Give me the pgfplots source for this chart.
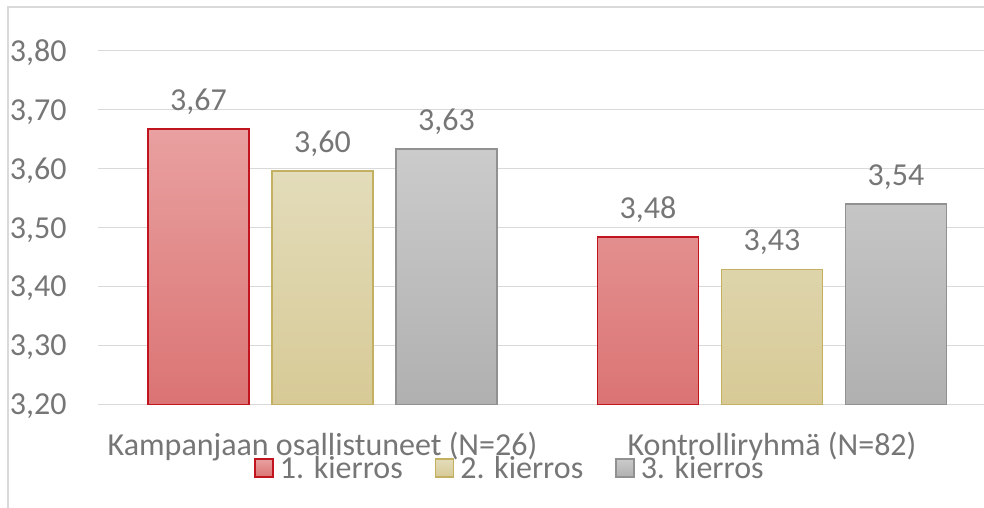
\documentclass[border=0pt]{standalone}
\usepackage{pgfplots}
\pgfplotsset{compat=1.18}
\usepackage{fontspec}
\setmainfont{Carlito}
\definecolor{txt}{RGB}{118,118,118}
\definecolor{gridc}{RGB}{217,217,217}
\definecolor{redB}{RGB}{192,20,30}
\definecolor{redT}{RGB}{233,160,160}
\definecolor{redBo}{RGB}{219,116,116}
\definecolor{yelB}{RGB}{196,176,98}
\definecolor{yelT}{RGB}{227,220,186}
\definecolor{yelBo}{RGB}{215,202,150}
\definecolor{gryB}{RGB}{145,145,145}
\definecolor{gryT}{RGB}{203,203,203}
\definecolor{gryBo}{RGB}{176,176,176}
\newcommand{\cf}{\fontsize{32}{38}\selectfont}
\pgfplotsset{boxlegend/.style={legend image code/.code={\draw[##1] (0pt,-9pt) rectangle (18pt,9pt);}}}
\begin{document}
\begin{tikzpicture}
\useasboundingbox (0,0) rectangle (984pt,507pt);
\draw[gridc, line width=1.5pt] (8pt,-5pt) -- (8pt,500pt) -- (1000pt,500pt);
\begin{axis}[
  at={(97.75pt,102.7pt)}, anchor=south west,
  scale only axis, width=886.25pt, height=353.6pt,
  xmin=-0.5, xmax=1.4716,
  ymin=0, ymax=0.6,
  y filter/.code={\pgfmathparse{#1-3.2}},
  axis line style={draw=none},
  major tick length=0pt,
  ytick={0,0.1,0.2,0.3,0.4,0.5,0.6},
  yticklabel={\pgfmathparse{\tick+3.2}\pgfmathprintnumber[fixed,fixed zerofill,precision=2,use comma,assume math mode=true]{\pgfmathresult}},
  yticklabel style={anchor=base east, xshift=-31pt, yshift=-10.5pt, inner sep=0pt, text=txt, font=\cf},
  ymajorgrids, grid style={gridc, line width=1.5pt},
  xtick={0,1},
  xticklabels={Kampanjaan osallistuneet (N=26), Kontrolliryhmä (N=82)},
  xticklabel style={anchor=base, yshift=-50.7pt, inner sep=0pt, text=txt, font=\cf},
  ybar=23pt, bar width=101pt,
  point meta=rawy,
  nodes near coords={\pgfmathprintnumber[fixed,fixed zerofill,precision=2,use comma,assume math mode=true]{\pgfplotspointmeta}},
  nodes near coords align={anchor=base},
  every node near coord/.append style={text=txt, font=\cf, anchor=base, yshift=18.5pt, inner sep=0pt},
  legend columns=3,
  legend style={draw=none, fill=none, at={(0.4652,-0.180)}, anchor=center, font=\cf, text=txt,
    /tikz/every odd column/.append style={column sep=4pt},
    /tikz/every even column/.append style={column sep=30pt}},
]
\addplot[top color=redT, bottom color=redBo, draw=redB, line width=1.5pt, boxlegend]
  coordinates {(0,3.667) (1,3.484)};
\addplot[top color=yelT, bottom color=yelBo, draw=yelB, line width=1.5pt, boxlegend]
  coordinates {(0,3.596) (1,3.429)};
\addplot[top color=gryT, bottom color=gryBo, draw=gryB, line width=1.5pt, boxlegend]
  coordinates {(0,3.633) (1,3.540)};
\legend{1. kierros, 2. kierros, 3. kierros}
\end{axis}
\end{tikzpicture}
\end{document}
